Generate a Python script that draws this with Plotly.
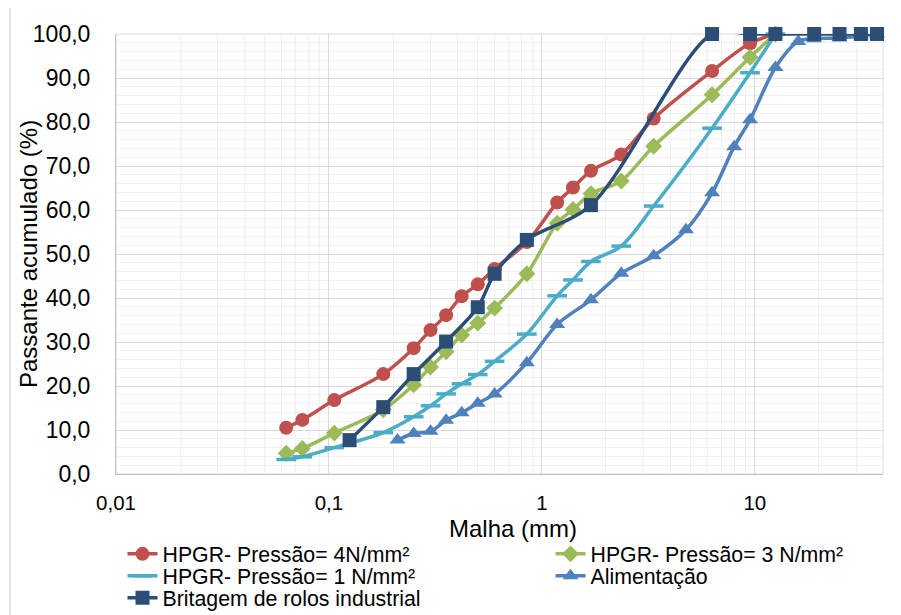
import plotly.graph_objects as go

# ---- data ----
x_red = [0.063, 0.075, 0.106, 0.18, 0.25, 0.30, 0.355, 0.42, 0.50, 0.60, 0.85, 1.18, 1.40, 1.70, 2.36, 3.35, 6.3, 9.5, 12.5]
y_red = [10.5, 12.3, 16.8, 22.7, 28.6, 32.7, 36.1, 40.4, 43.1, 46.6, 52.7, 61.7, 65.1, 68.9, 72.6, 80.8, 91.6, 97.9, 100.0]

x_green = [0.063, 0.075, 0.106, 0.18, 0.25, 0.30, 0.355, 0.42, 0.50, 0.60, 0.85, 1.18, 1.40, 1.70, 2.36, 3.35, 6.3, 9.5, 12.5]
y_green = [4.7, 5.8, 9.3, 14.6, 20.3, 24.3, 27.8, 31.6, 34.3, 37.7, 45.5, 57.0, 60.1, 63.7, 66.6, 74.5, 86.2, 94.7, 100.0]

x_cyan = [0.063, 0.075, 0.106, 0.18, 0.25, 0.30, 0.355, 0.42, 0.50, 0.60, 0.85, 1.18, 1.40, 1.70, 2.36, 3.35, 6.3, 9.5, 12.5]
y_cyan = [3.3, 3.9, 6.0, 9.4, 13.0, 15.5, 18.2, 20.5, 22.6, 25.6, 31.8, 40.5, 44.1, 48.3, 51.8, 60.9, 78.6, 91.2, 100.0]

x_alim = [0.21, 0.25, 0.30, 0.355, 0.42, 0.50, 0.60, 0.85, 1.18, 1.70, 2.36, 3.35, 4.75, 6.3, 8.0, 9.5, 12.5, 16, 19, 25, 31.5, 37.5]
y_alim = [7.7, 9.2, 9.7, 12.2, 13.9, 16.1, 18.2, 25.3, 34.0, 39.6, 45.6, 49.6, 55.5, 63.9, 74.4, 80.5, 92.4, 98.3, 98.9, 99.1, 99.6, 100.0]

x_brit = [0.125, 0.18, 0.25, 0.355, 0.50, 0.60, 0.85, 1.70, 6.3, 9.5, 12.5, 19, 25, 31.5, 37.5]
y_brit = [7.7, 15.2, 22.7, 30.1, 37.9, 45.5, 53.2, 61.1, 100.0, 100.0, 100.0, 100.0, 100.0, 100.0, 100.0]

names = ["HPGR- Pressão= 4N/mm²", "HPGR- Pressão= 3 N/mm²", "HPGR- Pressão= 1 N/mm²",
         "Alimentação", "Britagem de rolos industrial"]

x_tickvals = [0.01, 0.1, 1, 10]
x_ticktext = ["0,01", "0,1", "1", "10"]

FONT = "Arial, Liberation Sans, sans-serif"

# page offset (default body margin of the html page)
OFF = 8
W, H = 901, 615
# plot-area geometry in screenshot pixels
L, R, T, B = 116, 883, 34, 474
PW, PH = R - L, B - T

def px2x(px):
    return (px - L) / PW

def py2y(py):
    return (B - py) / PH

fig = go.Figure()

def add(x, y, name, color, symbol, size, legend, mline=0):
    fig.add_trace(go.Scatter(
        x=x, y=y, name=name, mode="lines+markers", legend=legend, cliponaxis=False,
        line=dict(color=color, width=3.5, shape="spline", smoothing=0.9),
        marker=dict(symbol=symbol, size=size, color=color,
                    line=dict(color=color, width=mline)),
    ))

add(x_red, y_red, names[0], "#C0504D", "circle", 14, "legend")
add(x_green, y_green, names[1], "#9BBB59", "diamond", 13, "legend2")
add(x_cyan, y_cyan, names[2], "#4BACC6", "line-ew", 14, "legend3", mline=3.5)
add(x_alim, y_alim, names[3], "#4F81BD", "triangle-up", 14, "legend4")
add(x_brit, y_brit, names[4], "#2C4D75", "square", 14, "legend5")

minor_x = []
for d in [0.01, 0.1, 1, 10]:
    for k in range(2, 10):
        v = d * k
        if v <= 40:
            minor_x.append(v)

fig.update_xaxes(
    type="log", range=[-2, 1.60206], automargin=False,
    tickmode="array", tickvals=x_tickvals, ticktext=x_ticktext,
    showgrid=True, gridcolor="#D9D9D9", gridwidth=1,
    minor=dict(tickmode="array", tickvals=minor_x, showgrid=True, gridcolor="#F0F0F0", gridwidth=1, ticks=""),
    showline=True, linecolor="#BFBFBF", linewidth=1, mirror=False,
    ticks="", ticklabelstandoff=10,
    tickfont=dict(family=FONT, size=20.5, color="#000000"),
    zeroline=False,
)
fig.update_yaxes(
    range=[0, 100], dtick=10, tickformat=".1f", automargin=False,
    showgrid=True, gridcolor="#D9D9D9", gridwidth=1,
    minor=dict(dtick=2, showgrid=True, gridcolor="#F0F0F0", gridwidth=1, ticks=""),
    showline=True, linecolor="#BFBFBF", linewidth=1,
    ticks="", ticklabelstandoff=20,
    tickfont=dict(family=FONT, size=23, color="#000000"),
    zeroline=False,
)

leg_common = dict(orientation="v", xanchor="left", yanchor="middle",
                  font=dict(family=FONT, size=21.3, color="#000000"),
                  bgcolor="rgba(0,0,0,0)", itemclick=False, borderwidth=0)

col1_px, col2_px = 122.5, 550.5
row_py = [554, 576, 598]

fig.update_layout(
    width=W, height=H,
    margin=dict(l=L - OFF, r=W - (R - OFF), t=T - OFF, b=H - (B - OFF), autoexpand=False),
    paper_bgcolor="white", plot_bgcolor="white",
    separators=", ",
    showlegend=True,
    legend=dict(x=px2x(col1_px), y=py2y(row_py[0]), **leg_common),
    legend2=dict(x=px2x(col2_px), y=py2y(row_py[0]), **leg_common),
    legend3=dict(x=px2x(col1_px), y=py2y(row_py[1]), **leg_common),
    legend4=dict(x=px2x(col2_px), y=py2y(row_py[1]), **leg_common),
    legend5=dict(x=px2x(col1_px), y=py2y(row_py[2]), **leg_common),
    annotations=[
        dict(text="Malha (mm)", xref="paper", yref="paper", x=px2x(513), y=py2y(528),
             xanchor="center", yanchor="middle", showarrow=False,
             font=dict(family=FONT, size=24, color="#000000")),
        dict(text="Passante acumulado (%)", xref="paper", yref="paper", x=px2x(28), y=py2y(254),
             xanchor="center", yanchor="middle", showarrow=False, textangle=-90,
             font=dict(family=FONT, size=24, color="#000000")),
    ],
    shapes=[
        dict(type="rect", xref="paper", yref="paper",
             x0=px2x(10), x1=px2x(1000), y0=py2y(700), y1=py2y(7),
             line=dict(color="#D9D9D9", width=1.5), fillcolor="rgba(0,0,0,0)", layer="below"),
        dict(type="rect", xref="paper", yref="paper", x0=0, x1=1, y0=0, y1=1,
             line=dict(color="#D9D9D9", width=1), fillcolor="rgba(0,0,0,0)", layer="below"),
    ],
)

fig.write_html("out.html")
